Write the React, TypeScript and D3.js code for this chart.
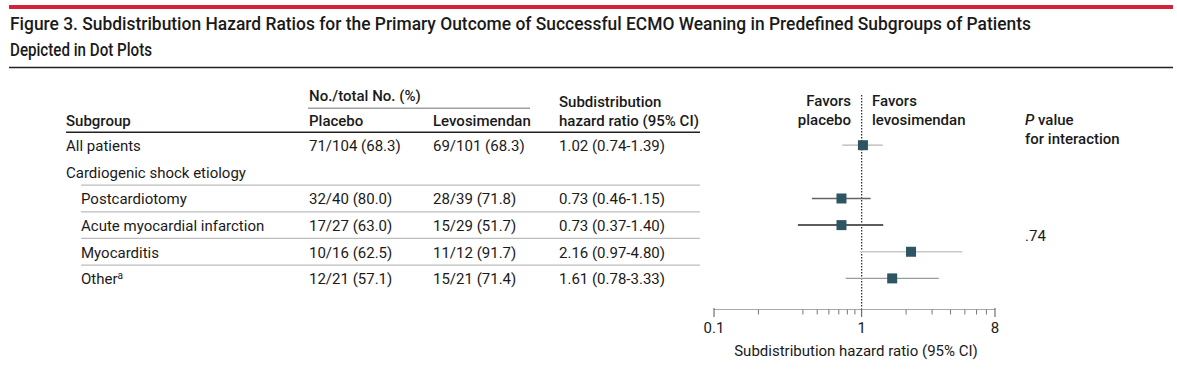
import React from "react";
import * as d3 from "d3";

const titleLines = [
  "Figure 3. Subdistribution Hazard Ratios for the Primary Outcome of Successful ECMO Weaning in Predefined Subgroups of Patients",
  "Depicted in Dot Plots",
];
const subgroups = [
  "All patients",
  "Cardiogenic shock etiology",
  "Postcardiotomy",
  "Acute myocardial infarction",
  "Myocarditis",
  "Other",
];
const indented = [false, false, true, true, true, true];
const footnote = ["", "", "", "", "", "a"];
const placebo = ["71/104 (68.3)", "", "32/40 (80.0)", "17/27 (63.0)", "10/16 (62.5)", "12/21 (57.1)"];
const levosimendan = ["69/101 (68.3)", "", "28/39 (71.8)", "15/29 (51.7)", "11/12 (91.7)", "15/21 (71.4)"];
const hr: (number | null)[] = [1.02, null, 0.73, 0.73, 2.16, 1.61];
const lower: (number | null)[] = [0.74, null, 0.46, 0.37, 0.97, 0.78];
const upper: (number | null)[] = [1.39, null, 1.15, 1.4, 4.8, 3.33];
const axisTicks = [0.1, 0.2, 0.4, 0.5, 0.6, 0.7, 0.8, 0.9, 1, 2, 3, 4, 5, 6, 7, 8];
const axisLabels = [0.1, 1, 8];
const pInteraction = ".74";

// styles (separate from data)
const ciColors = ["#b5b5b5", "", "#666666", "#5c5c5c", "#c9c9c9", "#9a9a9a"];
const ciWidths = [1.3, 0, 1.3, 2, 1.3, 1.3];

const FONT = "Roboto, 'Liberation Sans', Arial, sans-serif";
const TXT = "#1a1a1a";

export default function App() {
  const x = d3.scaleLog().domain([0.1, 8]).range([714, 995]);
  const y = d3
    .scalePoint<number>()
    .domain(subgroups.map((_, i) => i))
    .range([145.2, 278.4]);
  const fmt = d3.format(".2f");
  const sepYs = [2, 3, 4, 5].map((i) => ((y(i)! + y(i - 1)!) / 2));
  const x1 = x(1);

  return (
    <svg
      width={1177}
      height={375}
      style={{ position: "absolute", left: 0, top: 0, background: "#fff" }}
      fontFamily={FONT}
    >
      {/* top red bar and title */}
      <rect x={9} y={5} width={1164} height={4} fill="#d7213a" />
      <text x={10} y={30} fontSize={17.5} fontWeight={500} fill={TXT} textLength={1021} lengthAdjust="spacingAndGlyphs">
        {titleLines[0]}
      </text>
      <text x={10} y={56} fontSize={17.5} fontWeight={500} fill={TXT} textLength={142} lengthAdjust="spacingAndGlyphs">
        {titleLines[1]}
      </text>
      <line x1={9} x2={1173} y1={67.5} y2={67.5} stroke="#222" strokeWidth={1.5} />

      {/* table header */}
      <g fontSize={15} fontWeight={500} fill={TXT}>
        <text x={309} y={100.5}>No./total No. (%)</text>
        <text x={66} y={126}>Subgroup</text>
        <text x={309} y={126}>Placebo</text>
        <text x={433} y={126}>Levosimendan</text>
        <text x={559} y={106.5}>Subdistribution</text>
        <text x={559} y={126}>hazard ratio (95% CI)</text>
        <text x={851} y={106} textAnchor="end">Favors</text>
        <text x={851} y={125} textAnchor="end">placebo</text>
        <text x={872} y={106}>Favors</text>
        <text x={872} y={125}>levosimendan</text>
        <text x={1025} y={125}>
          <tspan fontStyle="italic">P</tspan> value
        </text>
        <text x={1025} y={144}>for interaction</text>
      </g>
      <line x1={308} x2={530} y1={108.3} y2={108.3} stroke="#a0a0a0" strokeWidth={1.5} />
      <line x1={66} x2={700} y1={132.3} y2={132.3} stroke="#222" strokeWidth={1.5} />

      {/* row separators */}
      {sepYs.map((sy, i) => (
        <line key={i} x1={81} x2={700} y1={sy} y2={sy} stroke="#bdbdbd" strokeWidth={1.2} />
      ))}

      {/* rows */}
      <g fontSize={15} fill={TXT}>
        {subgroups.map((s, i) => {
          const cy = y(i)!;
          const base = cy + 5.8;
          return (
            <g key={s}>
              <text x={indented[i] ? 81 : 66} y={base}>
                {s}
                {footnote[i] ? (
                  <tspan fontSize={10} dy={-5}>
                    {footnote[i]}
                  </tspan>
                ) : null}
              </text>
              {placebo[i] ? <text x={309} y={base}>{placebo[i]}</text> : null}
              {levosimendan[i] ? <text x={433} y={base}>{levosimendan[i]}</text> : null}
              {hr[i] != null ? (
                <text x={559} y={base}>
                  {`${fmt(hr[i]!)} (${fmt(lower[i]!)}-${fmt(upper[i]!)})`}
                </text>
              ) : null}
            </g>
          );
        })}
        <text x={1025} y={241.3}>{pInteraction}</text>
      </g>

      {/* reference line */}
      <line x1={x1} x2={x1} y1={95} y2={308} stroke="#333" strokeWidth={1.3} strokeDasharray="1.5,1.5" />

      {/* CI lines and squares */}
      {subgroups.map((s, i) => {
        if (hr[i] == null) return null;
        const cy = y(i)!;
        return (
          <g key={"ci" + s}>
            <line
              x1={x(lower[i]!)}
              x2={x(upper[i]!)}
              y1={cy}
              y2={cy}
              stroke={ciColors[i]}
              strokeWidth={ciWidths[i]}
            />
            <rect x={x(hr[i]!) - 5} y={cy - 5} width={10} height={10} fill="#2e5564" />
          </g>
        );
      })}

      {/* axis */}
      <line x1={x(0.1)} x2={x(8)} y1={309.5} y2={309.5} stroke="#a8a8a8" strokeWidth={1} />
      {axisTicks.map((t) => {
        const major = axisLabels.includes(t);
        return (
          <line
            key={t}
            x1={x(t)}
            x2={x(t)}
            y1={major ? 308 : 309.5}
            y2={major ? 317 : 314.5}
            stroke={major ? "#555" : "#777"}
            strokeWidth={1}
          />
        );
      })}
      <g fontSize={15} fill={TXT} textAnchor="middle">
        {axisLabels.map((t) => (
          <text key={t} x={x(t)} y={333}>
            {String(t)}
          </text>
        ))}
        <text x={856} y={356}>Subdistribution hazard ratio (95% CI)</text>
      </g>
    </svg>
  );
}
